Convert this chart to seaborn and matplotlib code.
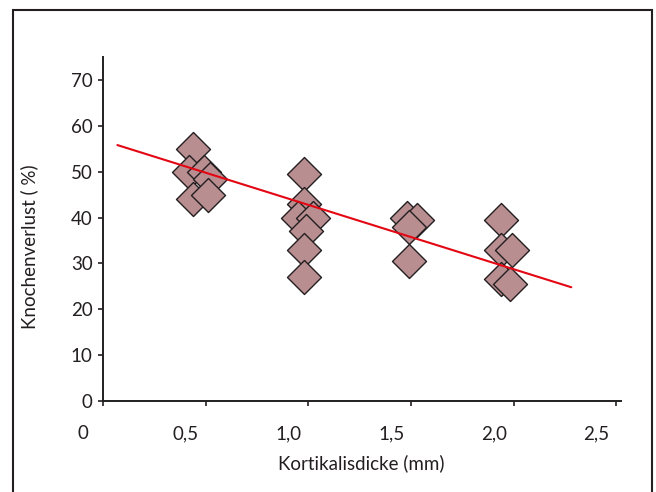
import matplotlib
matplotlib.use('Agg')
import matplotlib.pyplot as plt
import matplotlib.transforms as mtransforms
from matplotlib.patches import Rectangle
import seaborn as sns

# Kortikalisdicke (mm) vs. Knochenverlust (%)
thickness = [0.44, 0.42, 0.49, 0.52, 0.44, 0.51,
             0.98, 0.98, 0.95, 1.02, 0.99, 0.98, 0.98,
             1.48, 1.53, 1.49, 1.49,
             1.94, 1.94, 1.99, 1.94, 1.98]
bone_loss = [55, 50, 50, 48.5, 44, 45,
             49.5, 43, 40, 40, 37, 33, 27,
             40, 39.5, 38, 30.5,
             39.5, 33, 33, 26.5, 25.5]

# trend line as drawn in the figure
trend_x = [0.07, 2.28]
trend_y = [55.8, 24.8]

x_ticks = [0, 0.5, 1.0, 1.5, 2.0, 2.5]
x_labels = ['0', '0,5', '1,0', '1,5', '2,0', '2,5']
y_ticks = [0, 10, 20, 30, 40, 50, 60, 70]

sns.set_style('ticks')
plt.rcParams['font.family'] = ['Lato', 'DejaVu Sans']
ink = '#231F20'

fig = plt.figure(figsize=(6.56, 4.92), dpi=100)
ax = fig.add_axes([103 / 656, 1 - 401 / 492, 517.6 / 656, 344 / 492])

sns.scatterplot(x=thickness, y=bone_loss, marker='D', s=300,
                color='#B98E90', edgecolor=ink, linewidth=1.0, ax=ax, zorder=3)
sns.lineplot(x=trend_x, y=trend_y, color='#E30613', linewidth=1.5, ax=ax, zorder=4)

ax.set_xlim(0, 2.52)
ax.set_ylim(0, 75)
ax.set_xticks(x_ticks)
ax.set_xticklabels(x_labels)
ax.set_yticks(y_ticks)
sns.despine(ax=ax)
for side in ['left', 'bottom']:
    ax.spines[side].set_color(ink)
    ax.spines[side].set_linewidth(1.4)
ax.spines['left'].set_zorder(5)

ax.tick_params(axis='both', colors=ink, labelcolor=ink, labelsize=13.5,
               width=1.2, length=3.5, direction='out')
ax.tick_params(axis='x', pad=14)
ax.tick_params(axis='y', pad=4)

shift = mtransforms.ScaledTranslation(-20 / 100, 0, fig.dpi_scale_trans)
for lbl in ax.get_xticklabels():
    lbl.set_transform(lbl.get_transform() + shift)

ax.set_xlabel('Kortikalisdicke (mm)', fontsize=13.5, color=ink)
ax.set_ylabel('Knochenverlust ( %)', fontsize=13.5, color=ink)
ax.xaxis.set_label_coords(0.499, -0.155)
ax.yaxis.set_label_coords(-0.125, 0.45)

frame = Rectangle((13 / 656, -0.05), (652 - 13) / 656, 1.05 - 10 / 492,
                  transform=fig.transFigure, fill=False, edgecolor=ink,
                  linewidth=1.5, clip_on=False)
fig.add_artist(frame)

fig.savefig('out.png', dpi=100)
